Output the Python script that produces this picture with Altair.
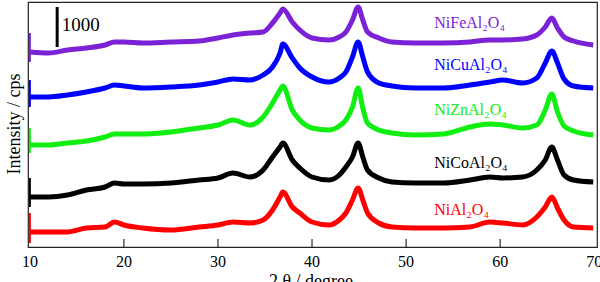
import altair as alt
import pandas as pd

# 2θ positions (degree) at which the patterns were read
deg = [10, 12, 14, 16, 18, 19, 20, 22, 25, 28, 30, 31.6, 33.4, 34.8, 35.8, 36.6, 36.9,
       37.9, 38.7, 40, 41.8, 42.9, 43.6, 44.3, 44.9, 45.4, 45.9, 47.1, 48.5, 51, 54,
       56.8, 58.9, 60.3, 62.4, 63.9, 64.8, 65.5, 66.1, 66.8, 67.8, 69.9]

# stacked intensities (cps, with vertical offsets as in the figure)
nife = [4875, 4850, 4925, 4975, 5050, 5125, 5125, 5100, 5125, 5150, 5225, 5300, 5350, 5375,
        5600, 5850, 5950, 5625, 5425, 5225, 5175, 5250, 5375, 5675, 6000, 5675, 5375, 5225,
        5125, 5100, 5100, 5125, 5175, 5175, 5200, 5300, 5500, 5725, 5475, 5250, 5150, 5050]
nicu = [3750, 3750, 3800, 3875, 3975, 4050, 4025, 3975, 4000, 4050, 4125, 4200, 4175, 4300,
        4500, 4850, 5075, 4725, 4475, 4250, 4125, 4225, 4375, 4750, 5125, 4750, 4375, 4100,
        4025, 3975, 3975, 4050, 4125, 4175, 4100, 4225, 4600, 4900, 4600, 4200, 4025, 3975]
nizn = [2550, 2550, 2600, 2650, 2750, 2825, 2825, 2825, 2875, 2975, 3050, 3175, 3050, 3250,
        3600, 3925, 4025, 3425, 3175, 2975, 2925, 3025, 3175, 3500, 3975, 3475, 3100, 2925,
        2850, 2800, 2825, 3000, 3075, 3050, 2975, 3050, 3425, 3825, 3375, 3025, 2900, 2800]
nico = [1250, 1250, 1300, 1425, 1500, 1600, 1575, 1575, 1600, 1675, 1725, 1850, 1750, 1925,
        2250, 2500, 2600, 2175, 1975, 1750, 1675, 1800, 2000, 2250, 2600, 2250, 1925, 1725,
        1625, 1600, 1600, 1675, 1750, 1725, 1750, 1925, 2175, 2500, 2175, 1800, 1675, 1625]
nial = [375, 375, 375, 475, 500, 625, 550, 475, 425, 500, 550, 625, 600, 675,
        925, 1250, 1375, 1000, 850, 625, 550, 675, 850, 1175, 1475, 1175, 850, 600,
        500, 475, 475, 500, 625, 600, 550, 750, 1000, 1250, 975, 675, 500, 475]

series = ["NiFeAl₂O₄", "NiCuAl₂O₄", "NiZnAl₂O₄", "NiCoAl₂O₄", "NiAl₂O₄"]
colors = ["#7B22D6", "#0000FF", "#11EE11", "#000000", "#FF0000"]
values = [nife, nicu, nizn, nico, nial]

# start-of-scan spikes at 10°
spike_top = [5350, 4175, 2975, 1725, 850]
spike_bottom = [4625, 3500, 2350, 1000, 100]

# label anchors
label_x = [53, 53, 53, 53, 53]
label_y = [5600, 4550, 3425, 2100, 925]

x_ticks = [10, 20, 30, 40, 50, 60, 70]
inner_ticks = [20, 30, 40, 50, 60]
x_title = "2 θ / degree"
y_title = "Intensity / cps"

rows = []
for s, v in zip(series, values):
    for d, y in zip(deg, v):
        rows.append({"series": s, "deg": d, "I": y})
df = pd.DataFrame(rows)
spikes = pd.DataFrame({"series": series, "deg": [10] * 5, "top": spike_top, "bottom": spike_bottom})
labels = pd.DataFrame({"series": series, "deg": label_x, "I": label_y})

font = "Liberation Serif"
xs = alt.Scale(domain=[9.8, 70.3], nice=False, zero=False)
ys = alt.Scale(domain=[0, 6125], nice=False, zero=False)
cs = alt.Scale(domain=series, range=colors)

lines = alt.Chart(df).mark_line(strokeWidth=5, interpolate="monotone").encode(
    x=alt.X("deg:Q", scale=xs, axis=None),
    y=alt.Y("I:Q", scale=ys, axis=None),
    color=alt.Color("series:N", scale=cs, legend=None),
    detail="series:N",
)

spike_rules = alt.Chart(spikes).mark_rule(strokeWidth=2).encode(
    x=alt.X("deg:Q", scale=xs, axis=None), y=alt.Y("top:Q", scale=ys, axis=None), y2="bottom:Q",
    color=alt.Color("series:N", scale=cs, legend=None),
)

tick_rules = alt.Chart(pd.DataFrame({"t": inner_ticks})).mark_rule(color="#000", strokeWidth=1).encode(
    x=alt.X("t:Q", scale=xs, axis=None), y=alt.value(245), y2=alt.value(237),
)

tick_labels = alt.Chart(pd.DataFrame({"t": x_ticks})).mark_text(
    font=font, fontSize=16, align="center", baseline="middle", color="#000").encode(
    x=alt.X("t:Q", scale=xs, axis=None), y=alt.value(260), text="t:Q",
)

xtitle = alt.Chart(pd.DataFrame({"t": [x_title]})).mark_text(
    font=font, fontSize=18, align="center", baseline="top", color="#000").encode(
    x=alt.value(283), y=alt.value(271), text="t:N",
)

ytitle = alt.Chart(pd.DataFrame({"t": [y_title]})).mark_text(
    font=font, fontSize=18, align="center", baseline="middle", angle=270, color="#000").encode(
    x=alt.value(-13), y=alt.value(122), text="t:N",
)

bar = alt.Chart(pd.DataFrame({"deg": [12.9], "a": [6000], "b": [5000]})).mark_rule(
    color="#000", strokeWidth=3).encode(
    x=alt.X("deg:Q", scale=xs, axis=None), y=alt.Y("a:Q", scale=ys, axis=None), y2="b:Q",
)

bar_text = alt.Chart(pd.DataFrame({"deg": [13.4], "I": [5550], "t": ["1000"]})).mark_text(
    font=font, fontSize=19, align="left", baseline="middle", color="#000").encode(
    x=alt.X("deg:Q", scale=xs, axis=None), y=alt.Y("I:Q", scale=ys, axis=None), text="t:N",
)

label_text = alt.Chart(labels).mark_text(
    font=font, fontSize=16, align="left", baseline="middle").encode(
    x=alt.X("deg:Q", scale=xs, axis=None), y=alt.Y("I:Q", scale=ys, axis=None), text="series:N",
    color=alt.Color("series:N", scale=cs, legend=None),
)

chart = alt.layer(lines, spike_rules, tick_rules, tick_labels, xtitle, ytitle,
                  bar, bar_text, label_text).properties(
    width=569, height=245,
    autosize=alt.AutoSizeParams(type="none"),
    padding={"left": 28, "top": 2, "right": 3, "bottom": 35},
    background="white",
).configure_view(stroke="#222", strokeWidth=1.2)

chart.save("out.html", embed_options={"renderer": "svg", "actions": False})
